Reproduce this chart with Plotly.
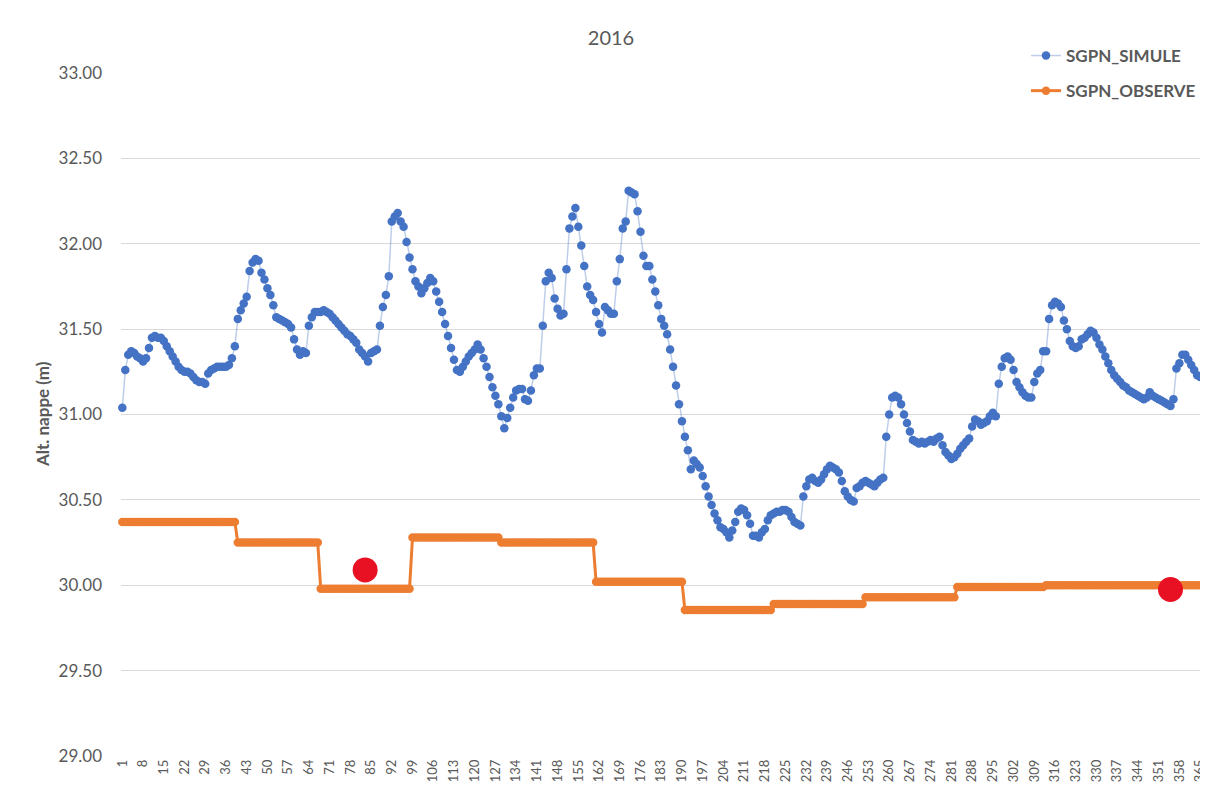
import plotly.graph_objects as go

# ---- data ----
days = list(range(1, 366))

simule = [
    31.04, 31.26, 31.35, 31.37, 31.36, 31.34, 31.33, 31.31, 31.33, 31.39,
    31.45, 31.46, 31.45, 31.45, 31.43, 31.40, 31.37, 31.34, 31.31, 31.28,
    31.26, 31.25, 31.25, 31.24, 31.22, 31.20, 31.19, 31.19, 31.18, 31.24,
    31.26, 31.27, 31.28, 31.28, 31.28, 31.28, 31.29, 31.33, 31.40, 31.56,
    31.61, 31.65, 31.69, 31.84, 31.89, 31.91, 31.90, 31.83, 31.79, 31.74,
    31.70, 31.64, 31.57, 31.56, 31.55, 31.54, 31.53, 31.51, 31.44, 31.38,
    31.35, 31.37, 31.36, 31.52, 31.57, 31.60, 31.60, 31.60, 31.61, 31.60,
    31.59, 31.57, 31.55, 31.53, 31.51, 31.49, 31.47, 31.46, 31.44, 31.42,
    31.38, 31.36, 31.34, 31.31, 31.36, 31.37, 31.38, 31.52, 31.63, 31.70,
    31.81, 32.13, 32.16, 32.18, 32.13, 32.10, 32.01, 31.92, 31.85, 31.78,
    31.75, 31.71, 31.74, 31.77, 31.80, 31.78, 31.72, 31.66, 31.60, 31.53,
    31.46, 31.39, 31.32, 31.26, 31.25, 31.28, 31.31, 31.34, 31.36, 31.38,
    31.41, 31.38, 31.33, 31.28, 31.22, 31.16, 31.11, 31.06, 30.99, 30.92,
    30.98, 31.04, 31.10, 31.14, 31.15, 31.15, 31.09, 31.08, 31.14, 31.23,
    31.27, 31.27, 31.52, 31.78, 31.83, 31.80, 31.68, 31.62, 31.58, 31.59,
    31.85, 32.09, 32.16, 32.21, 32.10, 31.99, 31.87, 31.75, 31.70, 31.67,
    31.60, 31.53, 31.48, 31.63, 31.61, 31.59, 31.59, 31.78, 31.91, 32.09,
    32.13, 32.31, 32.30, 32.29, 32.19, 32.07, 31.93, 31.87, 31.87, 31.79,
    31.72, 31.64, 31.56, 31.52, 31.47, 31.38, 31.28, 31.17, 31.06, 30.96,
    30.87, 30.79, 30.68, 30.73, 30.71, 30.69, 30.64, 30.58, 30.52, 30.47,
    30.42, 30.38, 30.34, 30.33, 30.31, 30.28, 30.32, 30.37, 30.43, 30.45,
    30.44, 30.41, 30.36, 30.29, 30.29, 30.28, 30.31, 30.33, 30.38, 30.41,
    30.42, 30.43, 30.43, 30.44, 30.44, 30.43, 30.40, 30.37, 30.36, 30.35,
    30.52, 30.58, 30.62, 30.63, 30.61, 30.60, 30.62, 30.65, 30.68, 30.70,
    30.69, 30.68, 30.66, 30.61, 30.55, 30.52, 30.50, 30.49, 30.57, 30.58,
    30.60, 30.61, 30.60, 30.59, 30.58, 30.60, 30.62, 30.63, 30.87, 31.00,
    31.10, 31.11, 31.10, 31.06, 31.00, 30.95, 30.90, 30.85, 30.84, 30.83,
    30.84, 30.83, 30.84, 30.85, 30.84, 30.86, 30.87, 30.82, 30.78, 30.76,
    30.74, 30.75, 30.77, 30.80, 30.82, 30.84, 30.86, 30.93, 30.97, 30.96,
    30.94, 30.95, 30.96, 30.99, 31.01, 30.99, 31.18, 31.28, 31.33, 31.34,
    31.32, 31.26, 31.19, 31.16, 31.13, 31.11, 31.10, 31.10, 31.19, 31.24,
    31.26, 31.37, 31.37, 31.56, 31.64, 31.66, 31.65, 31.63, 31.55, 31.50,
    31.43, 31.40, 31.39, 31.40, 31.44, 31.45, 31.47, 31.49, 31.48, 31.45,
    31.41, 31.38, 31.34, 31.30, 31.26, 31.23, 31.21, 31.19, 31.17, 31.16,
    31.14, 31.13, 31.12, 31.11, 31.10, 31.09, 31.10, 31.13, 31.11, 31.10,
    31.09, 31.08, 31.07, 31.06, 31.05, 31.09, 31.27, 31.30, 31.35, 31.35,
    31.32, 31.29, 31.26, 31.23, 31.22,
]

# observed series: (first day, last day, level)
obs_steps = [
    (1, 39, 30.37), (40, 67, 30.25), (68, 98, 29.98), (99, 128, 30.28),
    (129, 160, 30.25), (161, 190, 30.02), (191, 220, 29.855), (221, 251, 29.89),
    (252, 282, 29.93), (283, 312, 29.99), (313, 365, 30.00),
]
observe = []
for a, b, v in obs_steps:
    observe += [v] * (b - a + 1)

mark_days = [83, 355]
mark_vals = [30.09, 29.975]

x_ticks = list(range(1, 366, 7))
y_ticks = [29.0, 29.5, 30.0, 30.5, 31.0, 31.5, 32.0, 32.5, 33.0]

FONT = "Lato"
GREY = "#595959"

# the page body adds an 8 px offset; the figure is sized to fit the window
W, H = 1200, 786
OFF = 8

fig = go.Figure()
fig.add_trace(go.Scatter(
    x=days, y=simule, name="SGPN_SIMULE", mode="lines+markers",
    line=dict(color="rgba(68,114,196,0.35)", width=1.5),
    marker=dict(color="#4472C4", size=8.5),
    legendgroup="a", cliponaxis=False,
))
fig.add_trace(go.Scatter(
    x=days, y=observe, name="SGPN_OBSERVE", mode="lines+markers",
    line=dict(color="#ED7D31", width=3),
    marker=dict(color="#ED7D31", size=8.5),
    legendgroup="b", cliponaxis=False,
))
fig.add_trace(go.Scatter(
    x=mark_days, y=mark_vals, mode="markers", showlegend=False,
    marker=dict(color="#E81123", size=25),
))

fig.update_layout(
    width=W, height=H,
    margin=dict(l=121 - OFF, r=7, t=73 - OFF, b=H - (756 - OFF), autoexpand=False),
    paper_bgcolor="white", plot_bgcolor="white",
    title=dict(text="2016", x=(611 - OFF) / W, xanchor="center", y=1 - (38 - OFF) / H,
               yanchor="middle", font=dict(family=FONT, size=20, color=GREY)),
    font=dict(family=FONT, color=GREY),
    legend=dict(xref="container", yref="container", x=(1026 - OFF) / W, y=1 - (38 - OFF) / H,
                xanchor="left", yanchor="top",
                font=dict(family=FONT, size=17, color=GREY, weight="bold"),
                bgcolor="rgba(0,0,0,0)", tracegroupgap=10),
    showlegend=True,
)
fig.update_xaxes(
    range=[0.55, 365.3], tickmode="array", tickvals=x_ticks,
    ticktext=[str(t) for t in x_ticks], tickangle=-90,
    tickfont=dict(family=FONT, size=13, color=GREY),
    showgrid=False, zeroline=False, showline=False, ticks="", automargin=False,
    ticklabeloverflow="allow",
)
fig.update_yaxes(
    range=[29, 33], tickmode="array", tickvals=y_ticks,
    ticktext=[f"{v:.2f}" for v in y_ticks],
    tickfont=dict(family=FONT, size=17, color=GREY),
    showgrid=True, gridcolor="#D9D9D9", gridwidth=1, zeroline=False, showline=False,
    ticks="", ticklabelstandoff=18, automargin=False,
)
fig.add_annotation(
    text="<b>Alt. nappe (m)</b>", textangle=-90, xref="paper", yref="paper",
    x=(42 - 121) / 1080, y=(756 - 414) / 683, xanchor="center", yanchor="middle",
    showarrow=False, font=dict(family=FONT, size=17, color=GREY),
)

fig.write_html("out.html")
